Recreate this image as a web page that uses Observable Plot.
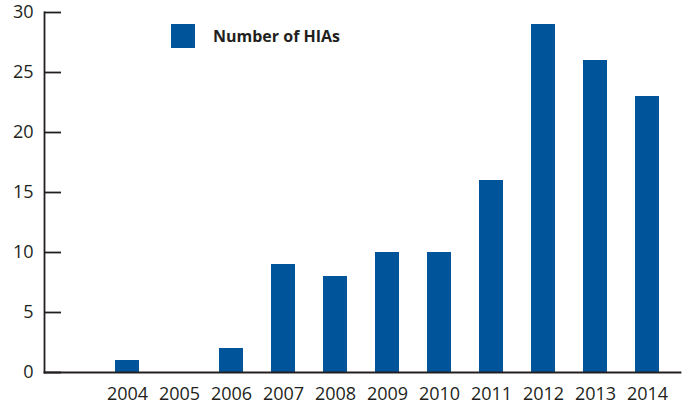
<!DOCTYPE html>
<html>
<head>
<meta charset="utf-8">
<script src="https://cdn.jsdelivr.net/npm/d3@7"></script>
<script src="https://cdn.jsdelivr.net/npm/@observablehq/plot@0.6"></script>
<style>
  html, body { margin: 0; padding: 0; background: white; }
  #wrap { position: relative; width: 686px; height: 408px; }
  #legend { position: absolute; left: 171px; top: 24px; display: flex; align-items: center;
    font-family: "Open Sans", sans-serif; font-weight: 700; font-size: 16px; color: #231f20; }
  #legend .sw { width: 24px; height: 24px; background: #00559a; margin-right: 18px; }
</style>
</head>
<body>
<div id="wrap"></div>
<script>
const years = ["2004","2005","2006","2007","2008","2009","2010","2011","2012","2013","2014"];
const counts = [1, 0, 2, 9, 8, 10, 10, 16, 29, 26, 23];
const yTicks = [0, 5, 10, 15, 20, 25, 30];
const seriesName = "Number of HIAs";
const barColor = "#00559a";
const ink = "#231f20";

const data = years.map((y, i) => ({year: y, count: counts[i]}));
const W = 686, H = 408, mL = 44, mR = 6, mT = 12, mB = 36;

const chart = Plot.plot({
  width: W, height: H,
  marginLeft: mL, marginRight: mR, marginTop: mT, marginBottom: mB,
  style: {fontFamily: "Open Sans, sans-serif", fontSize: "18px", color: ink, background: "white"},
  x: {domain: years, range: [100, 674], paddingInner: 0.54, paddingOuter: 0.27, label: null},
  y: {domain: [0, 30], label: null},
  marks: [
    Plot.barY(data, {x: "year", y: "count", fill: barColor}),
    Plot.frame({anchor: "left", stroke: ink, strokeWidth: 1.8}),
    Plot.frame({anchor: "bottom", stroke: ink, strokeWidth: 1.8}),
    Plot.tickY(yTicks, {y: d => d, insetRight: W - mL - mR - 17, stroke: ink, strokeWidth: 1.8}),
    Plot.axisY(yTicks, {tickSize: 0, tickPadding: 11, label: null, fill: ink}),
    Plot.axisX({tickSize: 0, tickPadding: 15, label: null, fill: ink})
  ]
});

const wrap = document.getElementById("wrap");
wrap.appendChild(chart);
const legend = document.createElement("div");
legend.id = "legend";
legend.innerHTML = `<div class="sw"></div><span>${seriesName}</span>`;
wrap.appendChild(legend);
</script>
</body>
</html>
